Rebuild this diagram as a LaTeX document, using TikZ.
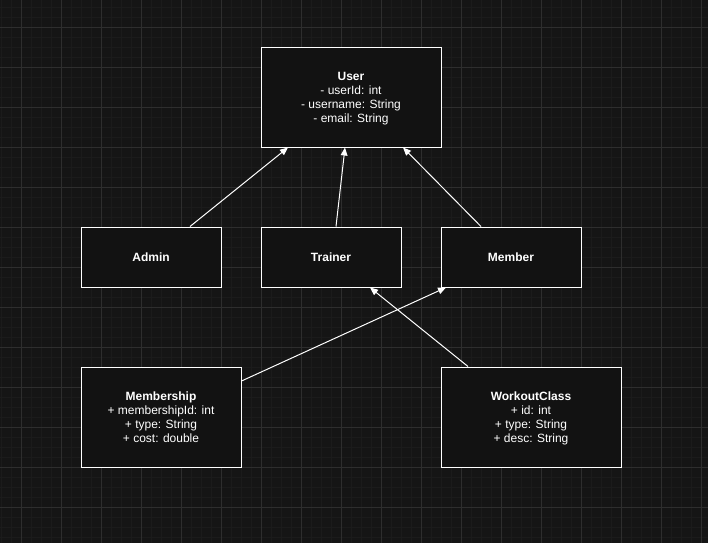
\documentclass[tikz,border=0pt]{standalone}
\usepackage{fontspec}
\setmainfont{Liberation Sans}
\usetikzlibrary{arrows.meta,calc}
\definecolor{bg}{HTML}{151515}
\definecolor{gridminor}{HTML}{1B1B1B}
\definecolor{gridmajor}{HTML}{2E2E2E}
\definecolor{boxfill}{HTML}{121212}
\begin{document}
\begin{tikzpicture}[x=0.75pt,y=-0.75pt,
  umlbox/.style={draw=white,line width=0.75pt,fill=boxfill,text=white,align=center,
    inner sep=0pt,font=\fontsize{9}{10.5}\selectfont},
  classbox/.style={umlbox,text depth=-1.1pt},
  inherit/.style={draw=white,line width=0.75pt,-{Triangle[length=6pt,width=5pt,fill=white]}}]
\fill[bg] (0,0) rectangle (708,543);
\useasboundingbox (0,0) rectangle (708,543);
\foreach \x in {1,11,...,708} \draw[gridminor,line width=0.75pt] (\x,0) -- (\x,543);
\foreach \y in {7,17,...,543} \draw[gridminor,line width=0.75pt] (0,\y) -- (708,\y);
\foreach \x in {21,61,...,708} \draw[gridmajor,line width=0.75pt] (\x,0) -- (\x,543);
\foreach \y in {27,67,...,543} \draw[gridmajor,line width=0.75pt] (0,\y) -- (708,\y);

\node[classbox,minimum width=135pt,minimum height=75pt] (user) at (351,97)
  {\textbf{User}\\- userId: int\\- username: String\\- email: String};
\node[umlbox,minimum width=105pt,minimum height=45pt] (admin) at (151,257) {\textbf{Admin}};
\node[umlbox,minimum width=105pt,minimum height=45pt] (trainer) at (331,257) {\textbf{Trainer}};
\node[umlbox,minimum width=105pt,minimum height=45pt] (member) at (511,257) {\textbf{Member}};
\node[classbox,minimum width=120pt,minimum height=75pt] (membership) at (161,417)
  {\textbf{Membership}\\+ membershipId: int\\+ type: String\\+ cost: double};
\node[classbox,minimum width=135pt,minimum height=75pt] (workout) at (531,417)
  {\textbf{WorkoutClass}\\+ id: int\\+ type: String\\+ desc: String};

\draw[inherit] ($(admin.north)+(39,0)$) -- ($(user.south)+(-63,0)$);
\draw[inherit] ($(trainer.north)+(5,0)$) -- ($(user.south)+(-6,0)$);
\draw[inherit] ($(member.north)+(-30,0)$) -- ($(user.south)+(52,0)$);
\draw[inherit] ($(membership.east)+(0,-36)$) -- ($(member.south)+(-65,0)$);
\draw[inherit] ($(workout.north)+(-63,0)$) -- ($(trainer.south)+(39,0)$);
\end{tikzpicture}
\end{document}
